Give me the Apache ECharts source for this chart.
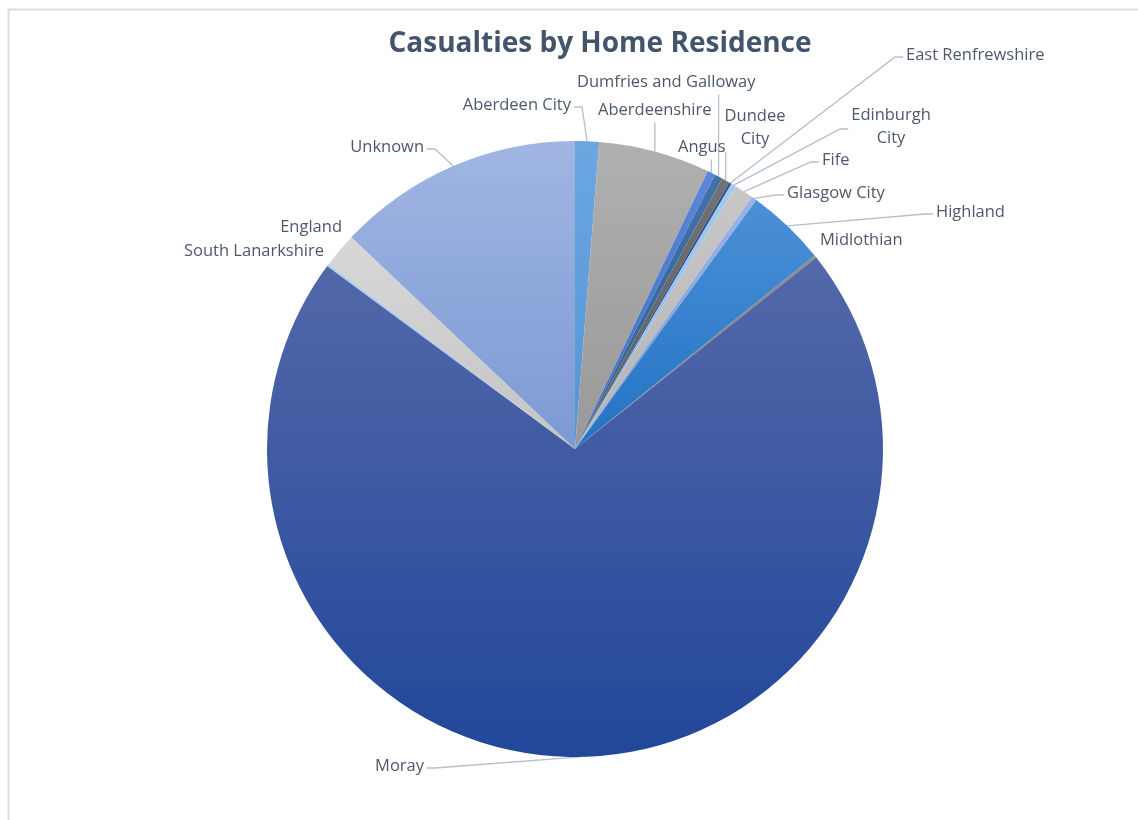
<!DOCTYPE html>
<html><head><meta charset="utf-8">
<script src="https://cdn.jsdelivr.net/npm/echarts@6/dist/echarts.min.js"></script>
<style>html,body{margin:0;padding:0;background:#fff}#c{width:1138px;height:820px}</style>
</head><body><div id="c"></div>
<script>
// ---- data ----
const categories = ['Aberdeen City','Aberdeenshire','Angus','Dumfries and Galloway','Dundee City','East Renfrewshire','Edinburgh City','Fife','Glasgow City','Highland','Midlothian','Moray','South Lanarkshire','England','Unknown'];
const casualties = [9, 42, 3, 3, 3, 1, 2, 7, 2, 30, 1, 509, 1, 13, 93];

// ---- styles ----
const topColors    = ['#6ba6e1','#b0b0b0','#5b87d7','#4173aa','#727272','#36528f','#a2cbf1','#c8c8c8','#9cb3e6','#4b90d7','#8c8c8c','#5468a9','#acd0f2','#d8d8d8','#a0b5e3'];
const bottomColors = ['#5495d7','#999999','#3e6dc3','#2b5e95','#5c5c5c','#263f7b','#86b6e6','#b3b3b3','#7c99d5','#2372c5','#797979','#21479a','#8fbbe8','#c3c3c3','#7c9ad3'];
const labelText = {'Dundee City':'Dundee\nCity','Edinburgh City':'Edinburgh\nCity'};
// label anchor x, y, alignment, draw leader line
const labelPos = [
  [571,105,'right',true],[598,110,'left',true],[678,147,'left',true],[577,82,'left',true],
  [755,128,'center',true],[906,55,'left',true],[891,127,'center',true],[822,160,'left',true],
  [787,193,'left',true],[936,212,'left',true],[820,240,'left',false],[424,766,'right',true],
  [324,251,'right',false],[342,227,'right',false],[424,147,'right',true]
];

const chart = echarts.init(document.getElementById('c'), null, {renderer:'canvas'});
const FONT = 'Open Sans';

const data = categories.map((n, i) => ({
  name: n,
  value: casualties[i],
  itemStyle: {
    color: new echarts.graphic.LinearGradient(0, 0, 0, 1, [
      {offset: 0, color: topColors[i]}, {offset: 1, color: bottomColors[i]}
    ])
  }
}));

chart.setOption({
  animation: false,
  backgroundColor: '#ffffff',
  title: {
    text: 'Casualties by Home Residence',
    left: 595, top: 25, textAlign: 'center',
    textStyle: {fontFamily: FONT, fontSize: 28, fontWeight: 'bold', color: '#44546a'}
  },
  graphic: [{
    type: 'rect', silent: true, z: -1,
    shape: {x: 8.5, y: 9.5, width: 1200, height: 900},
    style: {fill: 'none', stroke: '#d9dde4', lineWidth: 2}
  }],
  series: [{
    type: 'pie',
    center: [575, 449],
    radius: 308,
    startAngle: 90,
    clockwise: true,
    avoidLabelOverlap: false,
    minShowLabelAngle: 0,
    data: data,
    itemStyle: {borderWidth: 0},
    emphasis: {disabled: true},
    label: {
      show: true, position: 'outside',
      fontFamily: FONT, fontSize: 16.5, color: '#4d596b', lineHeight: 23,
      formatter: p => labelText[p.name] || p.name
    },
    labelLine: {show: true, length: 10, length2: 10, lineStyle: {color: '#b3bfcf', width: 1.3}},
    labelLayout: function (params) {
      const p = labelPos[params.dataIndex];
      const w = params.labelRect.width, h = params.labelRect.height;
      const x = p[0], y = p[1], align = p[2];
      const left = align === 'right' ? x - w : (align === 'center' ? x - w / 2 : x);
      const right = left + w, top = y - h / 2, bottom = y + h / 2;
      const a = params.labelLinePoints ? params.labelLinePoints[0] : [x, y];
      let pts;
      if (!p[3]) {
        pts = [a, a, a];
      } else if (a[0] >= left - 2 && a[0] <= right + 2) {
        const e = a[1] > bottom ? [a[0], bottom + 1] : [a[0], top - 1];
        pts = [a, e, e];
      } else if (a[0] > right) {
        pts = [a, [right + 11, y + 2], [right + 3, y + 2]];
      } else {
        pts = [a, [left - 11, y + 2], [left - 3, y + 2]];
      }
      return {x: x, y: y, align: align, verticalAlign: 'middle', labelLinePoints: pts, hideOverlap: false};
    }
  }]
});
</script>
</body></html>
